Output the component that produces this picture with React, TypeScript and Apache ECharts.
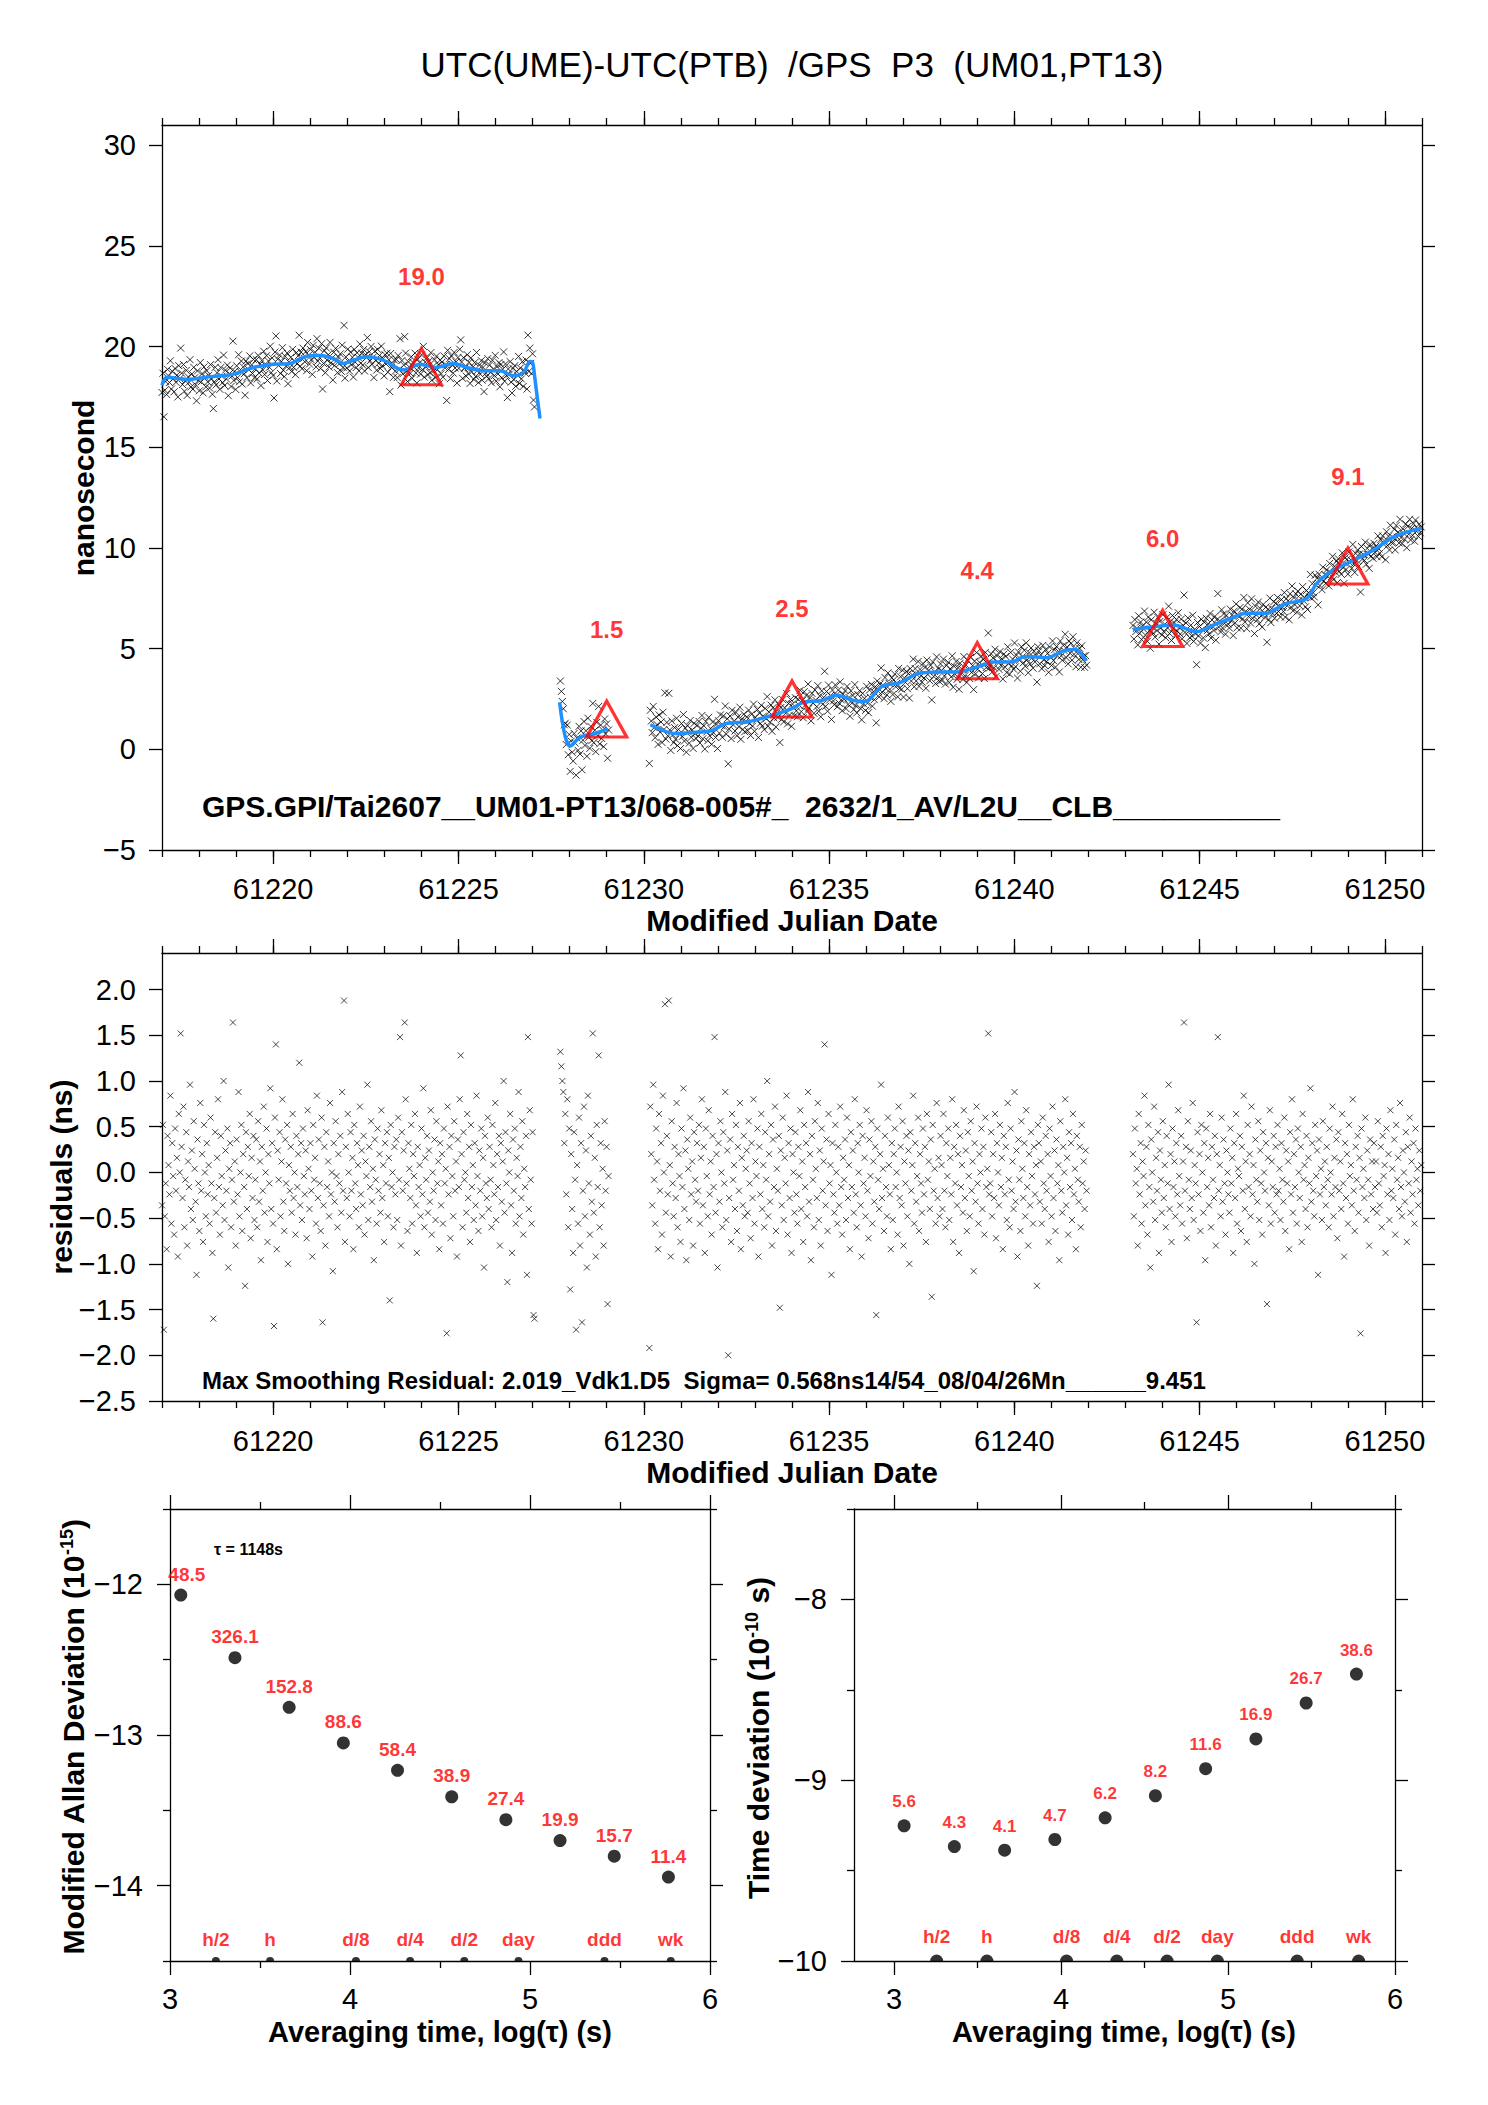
import { useEffect, useRef } from 'react';
import * as echarts from 'echarts';

const FONT = '"Liberation Sans", Arial, Helvetica, sans-serif';
const RED = '#ff0000';
const BLUE = '#1e90ff';

// x extent of the two upper panels (MJD)
const mjdMin = 61217;
const mjdMax = 61251;
const mjdLabels = [61220, 61225, 61230, 61235, 61240, 61245, 61250];

// y ticks of the upper panel and of the residual panel (ns)
const nsTicks = [-5, 0, 5, 10, 15, 20, 25, 30];
const resTicks = [-2.5, -2, -1.5, -1, -0.5, 0, 0.5, 1, 1.5, 2];

// smoothing curve, [MJD, ns], one list per block of tracks
const smooth1 = [
  [61217.0, 18.08], [61217.13, 18.47], [61217.67, 18.37], [61218.3, 18.5], [61218.93, 18.63],
  [61219.47, 18.96], [61220.0, 19.12], [61220.45, 19.16], [61220.9, 19.52], [61221.26, 19.56],
  [61221.62, 19.41], [61221.89, 19.16], [61222.16, 19.32], [61222.52, 19.49], [61222.97, 19.32],
  [61223.51, 18.83], [61223.96, 19.12], [61224.41, 18.96], [61224.86, 19.16], [61225.22, 18.96],
  [61225.67, 18.8], [61226.12, 18.8], [61226.48, 18.55], [61226.75, 18.7], [61226.93, 19.26],
  [61227.0, 19.2], [61227.05, 18.6], [61227.11, 17.7], [61227.2, 16.43],
];
const smooth2 = [
  [61227.73, 2.34], [61227.8, 1.4], [61227.9, 0.5], [61228.02, 0.17], [61228.2, 0.48],
  [61228.36, 0.65], [61228.65, 0.77], [61229.03, 1.0],
];
const smooth3 = [
  [61230.18, 1.22], [61230.86, 0.78], [61231.24, 0.83], [61231.82, 0.92], [61232.2, 1.27],
  [61232.78, 1.36], [61233.36, 1.63], [61233.94, 1.98], [61234.32, 2.34], [61234.8, 2.42],
  [61235.19, 2.69], [61235.67, 2.42], [61235.96, 2.37], [61236.44, 3.14], [61236.92, 3.31],
  [61237.4, 3.76], [61237.98, 3.84], [61238.46, 3.84], [61239.04, 4.11], [61239.43, 4.33],
  [61239.91, 4.33], [61240.29, 4.61], [61240.88, 4.55], [61241.36, 4.91], [61241.65, 4.96],
  [61241.94, 4.38],
];
const smooth4 = [
  [61243.2, 5.95], [61243.75, 6.08], [61244.29, 6.17], [61244.92, 5.84], [61245.37, 6.17],
  [61245.73, 6.42], [61246.27, 6.75], [61246.81, 6.75], [61247.08, 7.0], [61247.35, 7.24],
  [61247.89, 7.49], [61248.16, 8.24], [61248.61, 8.9], [61249.15, 9.39], [61249.69, 9.89],
  [61250.23, 10.55], [61250.77, 10.88], [61251.0, 10.97],
];

// first / last MJD of each block of tracks
const blockStart = [61217.0, 61227.75, 61230.15, 61243.2];
const blockEnd = [61227.05, 61229.05, 61241.95, 61250.98];

// residual of each track, two digits each: ns = (nn - 50) * 0.04
const resid1 = `
41 63 07 38 47 29 60 52 44 71 36 58 49 33 62 45 54 27 66 50 88 57 43 68 35 48 61 30 53 46 74 40 56 37 64 51 42 22 59 47 34 69 45 55 31 63 50 38 58 44
52 36 65 47 28 10 43 61 39 54 70 46 33 60 49 41 75 37 56 45 62 24 51 58 35 48 91 42 53 30 59 44 72 38 50 63 34 55 46 19 61 40 57 49 66 32 54 43 60 37
48 59 35 64 42 53 26 57 45 68 39 50 62 31 55 47 73 40 58 36 08 65 85 29 56 48 61 38 53 70 42 34 59 47 63 25 52 45 57 39 66 43 50 33 60 46 55 80 41 58
37 62 49 44 56 32 67 51 40 58 45 27 63 48 54 36 71 43 59 47 34 65 09 41 57 30 61 46 53 38 69 44 50 23 58 42 64 49 35 55 47 60 39 72 45 97 31 57 43 66
50 38 61 45 54 29 63 47 40 58 52 35 68 44 56 41 60 33 53 49 74 37 57 46 64 42 51 26 59 48 36 62 45 55 39 67 43 52 31 58 47 61 38 54 15 63 46 50 35 57
44 59 37 65 48 87 30 61 45 56 91 70 47 34 58 51 43 63 36 55 49 66 41 28 57 46 52 38 62 44 73 35 54 48 60 39 56 42 67 33 50 45 59 37 64 47 53 29 58 41
55 36 62 47 51 06 68 44 57 32 60 49 38 64 45 53 27 59 46 70 82 55 35 61 48 50 39 66 43 57 31 63 46 52 37 58 41 71 49 34 56 45 62 38 54 24 60 47 43 65
40 57 48 35 63 52 44 69 37 55 46 60 30 58 42 53 75 39 61 47 20 56 50 66 41 28 59 45 62 36 54 49 72 38 57 43 64 33 51 46 60 22 87 40 67 48 36 61 11 10`;
const resid2 = `
83 79 75 72 58 66 44 70 35 62 18 55 40 28 61 48 07 52 36 65 30 58 09 45 68 38 56 24 71 47 33 60 42 88 39 54 27 63 46 82 35 58 41 51 30 64 45 57 14 49`;
const resid3 = `
02 68 55 41 74 48 36 62 53 29 66 45 58 33 71 50 96 39 60 44 97 52 27 64 47 38 57 43 69 35 55 49 31 62 46 73 40 56 26 59 51 37 65 44 53 30 61 48 42 58
45 63 36 54 70 41 57 28 62 49 38 67 44 53 33 60 46 87 39 55 24 58 42 64 50 35 61 47 72 37 56 00 43 59 31 66 48 52 40 63 34 57 45 69 29 54 41 60 38 51
56 39 64 47 32 58 43 70 36 53 49 62 27 57 44 66 40 52 35 61 48 75 38 55 42 63 30 59 46 68 34 51 45 60 13 56 41 65 37 54 47 71 33 58 43 62 28 55 50 39
61 44 36 57 49 67 40 53 31 63 46 58 38 72 42 55 26 60 48 35 64 51 43 69 37 56 30 62 45 53 85 41 59 34 66 47 52 22 58 44 39 63 50 36 57 41 68 46 33 54
48 59 37 65 43 52 29 61 46 56 39 70 44 35 58 50 63 41 27 60 47 54 38 67 45 32 59 49 64 36 53 42 57 11 62 48 40 55 74 43 51 34 60 46 38 65 52 44 29 58
37 55 62 46 50 33 68 43 57 41 64 30 53 47 60 38 56 25 61 45 52 71 36 58 42 49 65 34 55 47 39 62 44 57 31 66 48 53 40 59 16 63 45 51 36 69 43 54 38 60
52 40 66 45 35 58 49 62 37 54 44 70 31 57 47 63 41 55 28 60 46 52 39 67 43 56 34 61 49 38 64 45 53 23 58 42 68 47 36 55 50 62 40 57 33 65 46 51 88 44
47 61 38 55 43 66 32 58 50 41 63 46 54 29 60 44 57 37 69 48 35 62 45 53 40 72 42 56 27 59 48 34 64 51 43 58 38 67 46 30 55 41 61 49 36 57 44 52 19 63
58 42 53 36 65 47 40 60 45 55 31 62 49 38 68 43 56 34 59 47 52 26 64 45 39 57 50 70 41 54 33 61 46 58 37 66 44 51 29 60 48 42 57 35 63 47 53 40 56 45`;
const resid4 = `
55 38 62 47 51 30 66 44 58 36 53 49 71 41 57 33 63 46 24 59 50 42 68 37 54 45 61 28 56 48 39 64 43 52 35 60 47 74 40 55 31 62 46 53 38 58 44 67 49 41
60 36 53 91 45 57 32 64 48 40 56 43 69 37 52 47 09 61 44 55 34 63 50 39 58 26 62 46 54 41 66 35 57 48 43 60 30 55 87 45 52 38 65 42 59 47 33 56 50 44
39 62 47 54 28 58 43 66 36 51 49 60 34 57 45 71 40 53 31 63 46 55 38 68 44 52 25 59 48 42 64 37 56 47 33 61 50 45 58 14 54 41 67 36 53 46 60 39 57 44
63 45 51 37 58 48 42 65 34 56 47 53 29 61 44 70 39 55 46 59 36 62 50 43 57 31 66 48 52 40 60 35 54 47 73 42 58 45 38 63 49 56 22 59 44 51 37 64 46 53
41 57 48 35 62 50 44 68 38 54 46 59 32 61 45 53 40 66 47 27 58 43 55 36 63 49 52 41 70 45 34 57 48 60 39 54 06 62 46 51 43 65 37 56 48 30 59 44 53 40
58 46 53 39 64 47 41 57 35 60 49 52 28 62 44 55 37 67 45 51 43 59 33 63 48 54 40 69 46 38 56 50 42 61 31 57 47 65 39 53 44 58 36 62 48 51 41 56 45 52`;

// daily means (red triangles)
const meanDays = [61224, 61229, 61234, 61239, 61244, 61249];
const meanValues = [19.0, 1.5, 2.5, 4.4, 6.0, 9.1];

// stability panels: log10(tau), log10(MDEV), log10(TDEV)
const tauLog = [3.06, 3.361, 3.662, 3.963, 4.264, 4.565, 4.866, 5.167, 5.468, 5.769];
const mdevLog = [-12.071, -12.487, -12.816, -13.053, -13.234, -13.41, -13.562, -13.701, -13.804, -13.943];
const mdevLabels = ['48.5', '326.1', '152.8', '88.6', '58.4', '38.9', '27.4', '19.9', '15.7', '11.4'];
const tdevLog = [-9.252, -9.367, -9.387, -9.328, -9.208, -9.086, -8.936, -8.772, -8.573, -8.413];
const tdevLabels = ['5.6', '4.3', '4.1', '4.7', '6.2', '8.2', '11.6', '16.9', '26.7', '38.6'];
const markerLog = [3.255, 3.556, 4.033, 4.334, 4.635, 4.936, 5.414, 5.782];
const markerLabels = ['h/2', 'h', 'd/8', 'd/4', 'd/2', 'day', 'ddd', 'wk'];

const decode = (s: string) => {
  const d = s.replace(/\s+/g, '');
  const out: number[] = [];
  for (let i = 0; i + 1 < d.length; i += 2) out.push((parseInt(d.slice(i, i + 2), 10) - 50) * 0.04);
  return out;
};

const curveAt = (knots: number[][], t: number) => {
  if (t <= knots[0][0]) return knots[0][1];
  for (let i = 1; i < knots.length; i++) {
    if (t <= knots[i][0]) {
      const [t0, v0] = knots[i - 1];
      const [t1, v1] = knots[i];
      return v0 + ((v1 - v0) * (t - t0)) / (t1 - t0);
    }
  }
  return knots[knots.length - 1][1];
};

const smoothBlocks = [smooth1, smooth2, smooth3, smooth4];
const residBlocks = [resid1, resid2, resid3, resid4];

const residPts: number[][] = [];
const rawPts: number[][] = [];
residBlocks.forEach((str, b) => {
  const vals = decode(str);
  vals.forEach((r, i) => {
    const t = blockStart[b] + ((blockEnd[b] - blockStart[b]) * i) / (vals.length - 1);
    residPts.push([t, r]);
    rawPts.push([t, curveAt(smoothBlocks[b], t) + r]);
  });
});

const dayTicks: number[] = [];
for (let d = mjdMin; d <= mjdMax; d++) dayTicks.push(d);

const LINE = { color: '#000', width: 1.3 };
const CROSS = 'path://M0 0L10 10M10 0L0 10';
const HALF_DOT = 'path://M0 10A10 10 0 0 1 20 10Z';
const minus = (s: string) => s.replace('-', '\u2212');

function axis(
  grid: number,
  position: string,
  min: number,
  max: number,
  ticks: number[],
  len: number,
  opts: { line?: boolean; labels?: number[]; margin?: number; digits?: number } = {}
) {
  return {
    type: 'value',
    gridIndex: grid,
    position,
    min,
    max,
    axisLine: { show: opts.line !== false, onZero: false, lineStyle: LINE },
    axisTick: { show: true, inside: false, length: len, customValues: ticks, lineStyle: LINE },
    axisLabel: opts.labels
      ? {
          show: true,
          customValues: opts.labels,
          margin: opts.margin ?? 24,
          color: '#000',
          fontSize: 29,
          fontFamily: FONT,
          formatter: (v: number) => minus(v.toFixed(opts.digits ?? 0)),
        }
      : { show: false },
    splitLine: { show: false },
    minorTick: { show: false },
  };
}

const hidden = (grid: number) => ({ type: 'value', gridIndex: grid, show: false, min: 0, max: 1 });

const text = (x: number, y: number, str: string, font: string, extra: Record<string, unknown> = {}) => ({
  type: 'text',
  x,
  y,
  silent: true,
  ...extra,
  style: {
    text: str,
    font,
    fill: '#000',
    align: 'center',
    verticalAlign: 'middle',
    textAlign: 'center',
    textVerticalAlign: 'middle',
    ...((extra.style as object) || {}),
  },
});

export default function App() {
  const ref = useRef<HTMLDivElement>(null);

  useEffect(() => {
    if (!ref.current) return;
    const chart = echarts.init(ref.current, undefined, { renderer: 'svg' });

    const panels = [
      { left: 162, top: 125, width: 1260, height: 725 },
      { left: 162, top: 953, width: 1260, height: 448 },
      { left: 170, top: 1509, width: 540, height: 452 },
      { left: 854, top: 1509, width: 541, height: 452 },
    ];

    const redLabel = (size: number, dy: number) => ({
      show: true,
      position: 'inside',
      offset: [0, dy],
      color: RED,
      fontSize: size,
      fontWeight: 'bold',
      fontFamily: FONT,
    });

    const option = {
      animation: false,
      backgroundColor: '#fff',
      // 0-3 carry the data and major ticks, 4-7 sit on top of them for the minor ticks
      grid: [...panels, ...panels].map((p) => ({ ...p, show: false, containLabel: false, outerBoundsMode: 'none' })),
      xAxis: [
        axis(0, 'bottom', mjdMin, mjdMax, mjdLabels, 14, { labels: mjdLabels, margin: 24 }),
        axis(0, 'top', mjdMin, mjdMax, mjdLabels, 14),
        axis(1, 'bottom', mjdMin, mjdMax, mjdLabels, 14, { labels: mjdLabels, margin: 25 }),
        axis(1, 'top', mjdMin, mjdMax, mjdLabels, 14),
        axis(2, 'bottom', 3, 6, [3, 4, 5, 6], 14, { labels: [3, 4, 5, 6], margin: 23 }),
        axis(2, 'top', 3, 6, [3, 4, 5, 6], 14),
        axis(3, 'bottom', 2.76, 6, [3, 4, 5, 6], 14, { labels: [3, 4, 5, 6], margin: 23 }),
        axis(3, 'top', 2.76, 6, [3, 4, 5, 6], 14),
        axis(4, 'bottom', mjdMin, mjdMax, dayTicks, 7, { line: false }),
        axis(4, 'top', mjdMin, mjdMax, dayTicks, 7, { line: false }),
        axis(5, 'bottom', mjdMin, mjdMax, dayTicks, 7, { line: false }),
        axis(5, 'top', mjdMin, mjdMax, dayTicks, 7, { line: false }),
        axis(6, 'bottom', 3, 6, [3.5, 4.5, 5.5], 7, { line: false }),
        axis(6, 'top', 3, 6, [3.5, 4.5, 5.5], 7, { line: false }),
        axis(7, 'bottom', 2.76, 6, [3.5, 4.5, 5.5], 7, { line: false }),
        axis(7, 'top', 2.76, 6, [3.5, 4.5, 5.5], 7, { line: false }),
      ],
      yAxis: [
        axis(0, 'left', -5, 31, nsTicks, 13, { labels: nsTicks, margin: 26 }),
        axis(0, 'right', -5, 31, nsTicks, 13),
        axis(1, 'left', -2.5, 2.4, resTicks, 13, { labels: resTicks, margin: 26, digits: 1 }),
        axis(1, 'right', -2.5, 2.4, resTicks, 13),
        axis(2, 'left', -14.5, -11.5, [-14, -13, -12], 13, { labels: [-14, -13, -12], margin: 27 }),
        axis(2, 'right', -14.5, -11.5, [-14, -13, -12], 13),
        axis(3, 'left', -10, -7.5, [-10, -9, -8], 13, { labels: [-10, -9, -8], margin: 27 }),
        axis(3, 'right', -10, -7.5, [-10, -9, -8], 13),
        hidden(4),
        hidden(5),
        axis(6, 'left', -14.5, -11.5, [-14.5, -13.5, -12.5, -11.5], 7, { line: false }),
        axis(6, 'right', -14.5, -11.5, [-14.5, -13.5, -12.5, -11.5], 7, { line: false }),
        axis(7, 'left', -10, -7.5, [-9.5, -8.5, -7.5], 7, { line: false }),
        axis(7, 'right', -10, -7.5, [-9.5, -8.5, -7.5], 7, { line: false }),
      ],
      series: [
        {
          type: 'scatter',
          xAxisIndex: 0,
          yAxisIndex: 0,
          data: rawPts,
          symbol: CROSS,
          symbolSize: 7,
          itemStyle: { color: 'rgba(0,0,0,0)', borderColor: '#000', borderWidth: 1 },
          progressive: 0,
          silent: true,
          z: 2,
        },
        ...smoothBlocks.map((knots) => ({
          type: 'line',
          xAxisIndex: 0,
          yAxisIndex: 0,
          data: knots,
          showSymbol: false,
          smooth: 0.3,
          lineStyle: { color: BLUE, width: 3.5 },
          silent: true,
          z: 3,
        })),
        {
          type: 'scatter',
          xAxisIndex: 0,
          yAxisIndex: 0,
          data: meanDays.map((d, i) => [d, meanValues[i]]),
          symbol: 'triangle',
          symbolSize: [40, 36],
          itemStyle: { color: 'rgba(0,0,0,0)', borderColor: RED, borderWidth: 3.2 },
          label: { ...redLabel(24, -90), formatter: (p: { value: number[] }) => p.value[1].toFixed(1) },
          silent: true,
          z: 4,
        },
        {
          type: 'scatter',
          xAxisIndex: 2,
          yAxisIndex: 2,
          data: residPts,
          symbol: CROSS,
          symbolSize: 6,
          itemStyle: { color: 'rgba(0,0,0,0)', borderColor: '#000', borderWidth: 0.9 },
          progressive: 0,
          silent: true,
        },
        {
          type: 'scatter',
          xAxisIndex: 4,
          yAxisIndex: 4,
          data: tauLog.map((t, i) =>
            i === 0 ? { value: [t, mdevLog[i]], label: { offset: [6, -21] } } : [t, mdevLog[i]]
          ),
          symbol: 'circle',
          symbolSize: 13,
          itemStyle: { color: '#000' },
          label: { ...redLabel(19, -21), formatter: (p: { dataIndex: number }) => mdevLabels[p.dataIndex] },
          silent: true,
        },
        {
          type: 'scatter',
          xAxisIndex: 4,
          yAxisIndex: 4,
          data: markerLog.map((t) => [t, -14.5]),
          symbol: HALF_DOT,
          symbolSize: [8, 4],
          symbolOffset: [0, -2],
          itemStyle: { color: '#000' },
          label: { ...redLabel(19, -20), formatter: (p: { dataIndex: number }) => markerLabels[p.dataIndex] },
          silent: true,
        },
        {
          type: 'scatter',
          xAxisIndex: 6,
          yAxisIndex: 6,
          data: tauLog.map((t, i) => [t, tdevLog[i]]),
          symbol: 'circle',
          symbolSize: 13,
          itemStyle: { color: '#000' },
          label: { ...redLabel(17, -24), formatter: (p: { dataIndex: number }) => tdevLabels[p.dataIndex] },
          silent: true,
        },
        {
          type: 'scatter',
          xAxisIndex: 6,
          yAxisIndex: 6,
          data: markerLog.map((t) => [t, -10]),
          symbol: HALF_DOT,
          symbolSize: [13, 6.5],
          symbolOffset: [0, -3.25],
          itemStyle: { color: '#000' },
          label: { ...redLabel(19, -21), formatter: (p: { dataIndex: number }) => markerLabels[p.dataIndex] },
          silent: true,
        },
      ],
      graphic: [
        text(792, 64, 'UTC(UME)-UTC(PTB)  /GPS  P3  (UM01,PT13)', `35px ${FONT}`),
        text(792, 920, 'Modified Julian Date', `bold 30px ${FONT}`),
        text(792, 1472, 'Modified Julian Date', `bold 30px ${FONT}`),
        text(83, 488, 'nanosecond', `bold 30px ${FONT}`, { rotation: Math.PI / 2 }),
        text(61, 1177, 'residuals (ns)', `bold 30px ${FONT}`, { rotation: Math.PI / 2 }),
        text(202, 806, 'GPS.GPI/Tai2607__UM01-PT13/068-005#_  2632/1_AV/L2U__CLB__________', `bold 30px ${FONT}`, {
          style: { align: 'left', textAlign: 'left' },
        }),
        text(
          202,
          1380,
          'Max Smoothing Residual: 2.019_Vdk1.D5  Sigma= 0.568ns14/54_08/04/26Mn______9.451',
          `bold 24px ${FONT}`,
          { style: { align: 'left', textAlign: 'left' } }
        ),
        text(214, 1549, '\u03c4 = 1148s', `bold 16px ${FONT}`, { style: { align: 'left', textAlign: 'left' } }),
        text(440, 2032, 'Averaging time, log(\u03c4) (s)', `bold 29px ${FONT}`),
        text(1124, 2032, 'Averaging time, log(\u03c4) (s)', `bold 29px ${FONT}`),
        text(73, 1737, '{n|Modified Allan Deviation (10}{s|-15}{n|)}', `bold 30px ${FONT}`, {
          rotation: Math.PI / 2,
          style: {
            rich: {
              n: { fontSize: 30, fontWeight: 'bold', fontFamily: FONT, fill: '#000' },
              s: { fontSize: 18, fontWeight: 'bold', fontFamily: FONT, fill: '#000', verticalAlign: 'top' },
            },
          },
        }),
        text(758, 1738, '{n|Time deviation (10}{s|-10}{n| s)}', `bold 30px ${FONT}`, {
          rotation: Math.PI / 2,
          style: {
            rich: {
              n: { fontSize: 30, fontWeight: 'bold', fontFamily: FONT, fill: '#000' },
              s: { fontSize: 18, fontWeight: 'bold', fontFamily: FONT, fill: '#000', verticalAlign: 'top' },
            },
          },
        }),
      ],
    };

    chart.setOption(option as echarts.EChartsOption);
    return () => chart.dispose();
  }, []);

  return (
    <div
      ref={ref}
      style={{ position: 'absolute', left: 0, top: 0, width: 1488, height: 2105, background: '#fff' }}
    />
  );
}
